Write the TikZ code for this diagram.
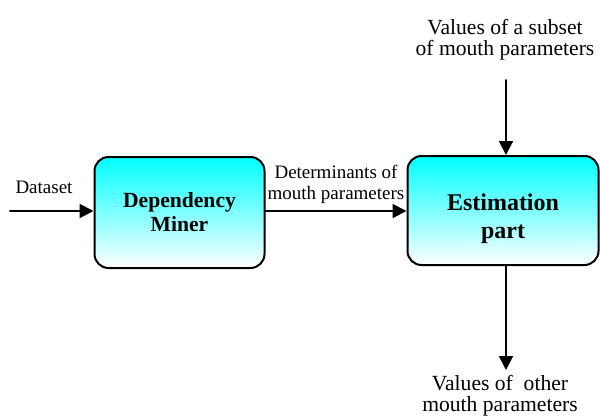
\documentclass[tikz,border=0pt]{standalone}
\usepackage{fontspec}
\setmainfont{Liberation Serif}
\usetikzlibrary{arrows.meta,shadings}

\tikzset{
  block/.style={draw,line width=1pt,rounded corners=7pt,top color=cyan,bottom color=white,
    align=center,font=\bfseries},
  lbl/.style={align=center,font=\fontsize{10.8}{10.5}\selectfont},
  smalllbl/.style={align=center,font=\fontsize{9.5}{10.5}\selectfont},
}

\begin{document}
\begin{tikzpicture}[line cap=round,line join=round,>={Triangle[length=7pt,width=7pt]},x=0.5pt,y=-0.5pt]
\useasboundingbox (0,0) rectangle (600,418);
% blocks
\node [block,minimum width=85pt,minimum height=55.5pt,font=\bfseries\fontsize{10.8}{12}\selectfont] (miner) at (179.5,212.5) {Dependency\\Miner};
\node [block,minimum width=95.5pt,minimum height=54.5pt] (est) at (503,210.5) {};
\node [align=center,font=\bfseries\fontsize{12}{13.8}\selectfont] (esttext) at ([yshift=-4pt]est.center) {Estimation\\part};
% free ends
\coordinate (in) at (10,211);
\coordinate (top) at (506,80);
\coordinate (out) at (506,370);
% labels
\node [smalllbl] (dataset) at (44,187) {Dataset};
\node [smalllbl] (determ) at (336,184) {Determinants of\\mouth parameters};
\node [lbl] (subset) at (505,40) {Values of a subset\\of mouth parameters};
\node [lbl] (other) at (500,396) {Values of \ other\\mouth parameters};
% arrows
\draw [line width=1pt,->] (in) -- (in -| miner.west);
\draw [line width=1pt,->] (miner.east |- in) -- (est.west |- in);
\draw [line width=1pt,->] (top) -- (top |- est.north);
\draw [line width=1pt,->] (out |- est.south) -- (out);
\end{tikzpicture}
\end{document}
